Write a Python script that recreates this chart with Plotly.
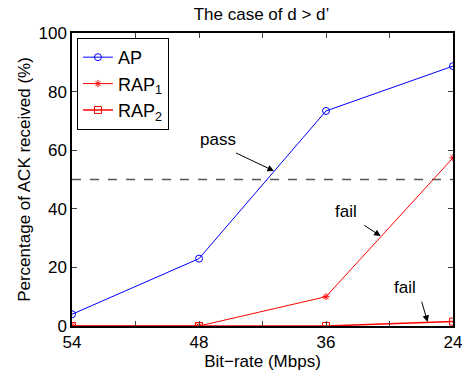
import plotly.graph_objects as go

categories = ["54", "48", "36", "24"]
ap = [4.0, 23.0, 73.4, 88.7]
rap1 = [0.0, 0.0, 10.0, 57.4]
rap2 = [0.0, 0.0, 0.0, 1.5]
threshold = 50
xpos = list(range(len(categories)))

fig = go.Figure()
fig.add_trace(go.Scatter(x=[xpos[0], xpos[-1]], y=[threshold, threshold], mode="lines",
                         line=dict(color="#555555", dash="dash", width=1.3),
                         showlegend=False, hoverinfo="skip"))
fig.add_trace(go.Scatter(x=xpos, y=ap, mode="lines+markers", name="AP",
                         line=dict(color="blue", width=1),
                         marker=dict(symbol="circle-open", size=7, color="blue", line=dict(width=1))))
fig.add_trace(go.Scatter(x=xpos, y=rap1, mode="lines+markers", name="RAP<sub>1</sub>",
                         line=dict(color="red", width=1),
                         marker=dict(symbol="asterisk-open", size=6, color="red", line=dict(width=1, color="red"))))
fig.add_trace(go.Scatter(x=xpos, y=rap2, mode="lines+markers", name="RAP<sub>2</sub>",
                         line=dict(color="red", width=1.5),
                         marker=dict(symbol="square-open", size=7, color="red", line=dict(width=1))))

tickvals = [i * 0.5 for i in range(2 * len(categories) - 1)]
ticktext = [categories[int(v)] if v == int(v) else "" for v in tickvals]

font = "Liberation Sans, Arial, sans-serif"
fig.update_layout(
    width=467, height=372,
    margin=dict(l=72, r=14, t=33, b=46),
    paper_bgcolor="white", plot_bgcolor="white",
    font=dict(family=font, size=17, color="black"),
    title=dict(text="The case of d > d’", x=0.56, xanchor="center", y=0.963, yanchor="middle",
               font=dict(size=17)),
    xaxis=dict(range=[0, 3], tickvals=tickvals, ticktext=ticktext, ticks="inside", ticklen=5,
               showline=True, linecolor="black", linewidth=1.5, mirror="ticks", showgrid=False,
               zeroline=False, title=dict(text="Bit−rate (Mbps)", font=dict(size=17), standoff=0),
               tickfont=dict(size=17), automargin=False),
    yaxis=dict(range=[0, 100], tickvals=[0, 20, 40, 60, 80, 100], ticks="inside", ticklen=5,
               showline=True, linecolor="black", linewidth=1.5, mirror="ticks", showgrid=False,
               zeroline=False, title=dict(text="Percentage of ACK received (%)", font=dict(size=17), standoff=4),
               tickfont=dict(size=17), automargin=False),
    legend=dict(x=0.013, y=0.983, xanchor="left", yanchor="top", bordercolor="black", borderwidth=1,
                bgcolor="white", font=dict(size=18), tracegroupgap=0, itemwidth=30),
    showlegend=True,
)

ann = [
    ("pass", 1.15, 63.8, 1.59, 52.9),
    ("fail", 2.16, 39.2, 2.43, 30.7),
    ("fail", 2.62, 13.3, 2.80, 1.4),
]
for text, tx, ty, hx, hy in ann:
    fig.add_annotation(x=hx, y=hy, ax=tx + 0.13, ay=ty - 4.5, xref="x", yref="y", axref="x", ayref="y",
                       text="", showarrow=True, arrowhead=2, arrowsize=1.3, arrowwidth=1, arrowcolor="black")
    fig.add_annotation(x=tx, y=ty, xref="x", yref="y", text=text, showarrow=False,
                       font=dict(size=17))

fig.write_html("out.html")
